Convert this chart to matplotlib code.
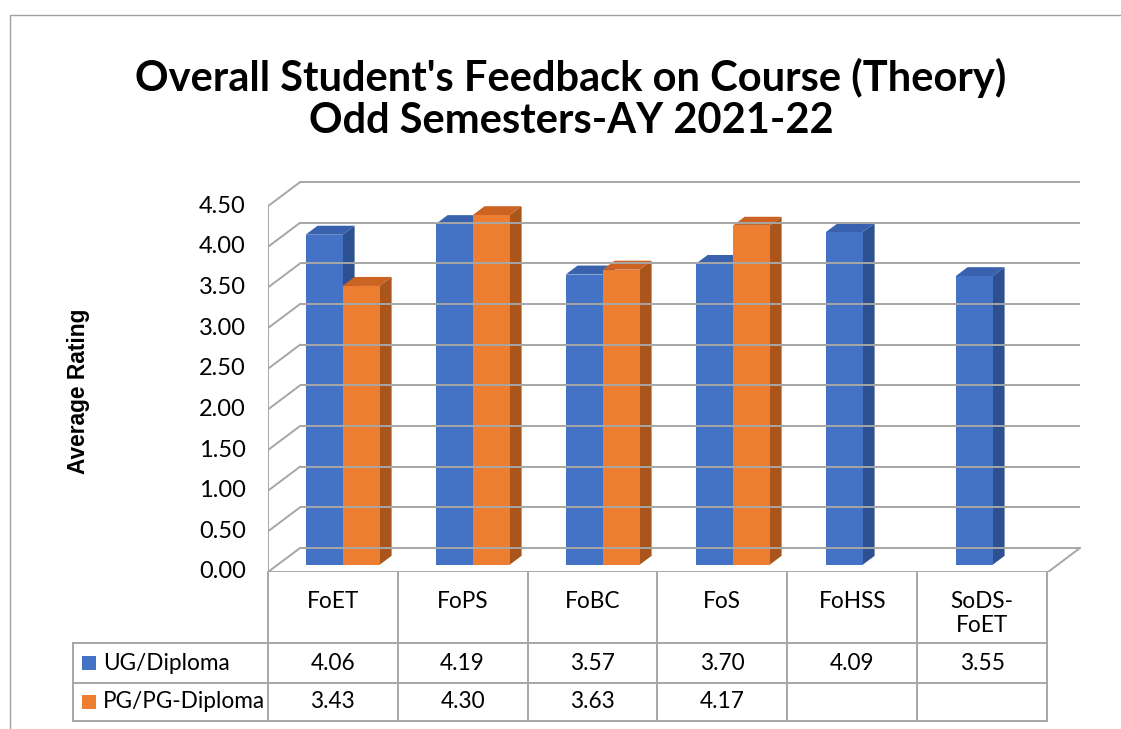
import numpy as np
import matplotlib
matplotlib.use("Agg")
import matplotlib.pyplot as plt
from matplotlib.patches import Polygon, Rectangle

# Дані
categories = ["FoET", "FoPS", "FoBC", "FoS", "FoHSS", "SoDS-\nFoET"]
ug_values = [4.06, 4.19, 3.57, 3.70, 4.09, 3.55]
pg_values = [3.43, 4.30, 3.63, 4.17, None, None]
series_names = ["UG/Diploma", "PG/PG-Diploma"]
y_ticks = np.arange(0, 4.51, 0.5)

# Кольори (front, top, side)
colors = [("#4472C4", "#3862ae", "#2d5190"),
          ("#ED7D31", "#cc6322", "#a9551c")]
grid_col = "#a6a6a6"

W, H = 1121, 729
fig = plt.figure(figsize=(W / 100, H / 100), dpi=100)
plt.rcParams['font.family'] = ['Lato', 'DejaVu Sans']

def fig_rect(x0, y0, x1, y1):
    # піксельні межі -> координати фігури
    return [x0 / W, 1 - y1 / H, (x1 - x0) / W, (y1 - y0) / H]

# рамка
fig.patches.append(Rectangle((10 / W, -0.1), 1.2, 1 - 15 / H + 0.1,
                             transform=fig.transFigure, fill=False,
                             edgecolor="#a0a0a0", lw=1.0))

fig.text(571 / W, 1 - 99 / H,
         "Overall Student's Feedback on Course (Theory)\nOdd Semesters-AY 2021-22",
         ha="center", va="center", fontsize=30, fontweight="bold",
         linespacing=1.12)

# Основна область
px_per_cat = 130.0
px_per_unit = 81.3
ax = fig.add_axes(fig_rect(268, 178, 1088, 572))
ax.set_xlim(-0.5, -0.5 + (1088 - 268) / px_per_cat)
ax.set_ylim(0, (572 - 178) / px_per_unit)
ax.axis("off")

DX = 32 / px_per_cat   # глибина по x
DY = 24 / px_per_unit  # глибина по y
x_left = -0.5
x_right = len(categories) - 0.5

# сітка на задній стіні та лівій стіні
for v in y_ticks:
    ax.plot([x_left + DX, x_right + DX], [v + DY, v + DY], color=grid_col, lw=1.4,
            solid_capstyle="butt")
    ax.plot([x_left, x_left + DX], [v, v + DY], color=grid_col, lw=1.4)
    ax.text(x_left - 0.17, v, f"{v:.2f}", ha="right", va="center", fontsize=17)
ax.plot([x_left, x_left], [0, y_ticks[-1]], color=grid_col, lw=1.4)
# підлога
ax.plot([x_left, x_right, x_right + DX], [0, 0, DY], color=grid_col, lw=1.4)

# 3D стовпці
w = 37 / px_per_cat
f0 = 0.3
fd = 0.375
base = f0 * DY
for i in range(len(categories)):
    for s, vals in enumerate([ug_values, pg_values]):
        v = vals[i]
        if v is None:
            continue
        front, topc, sidec = colors[s]
        x0 = i - w + s * w + f0 * DX
        top = base + v
        ddx, ddy = fd * DX, fd * DY
        ax.add_patch(Polygon([(x0, top), (x0 + w, top), (x0 + w + ddx, top + ddy),
                              (x0 + ddx, top + ddy)], closed=True, color=topc, lw=0))
        ax.add_patch(Polygon([(x0 + w, base), (x0 + w + ddx, base + ddy),
                              (x0 + w + ddx, top + ddy), (x0 + w, top)],
                             closed=True, color=sidec, lw=0))
        ax.add_patch(Rectangle((x0, base), w, v, color=front, lw=0))

fig.text(79 / W, 1 - 391 / H, "Average Rating", rotation=90, ha="center",
         va="center", fontsize=16.4, fontweight="bold", family="Liberation Sans")

# Таблиця даних
tab = fig.add_axes(fig_rect(73, 572, 1047, 721))
tab.set_xlim(-0.5 - 195 / px_per_cat, x_right)
tab.set_ylim(721, 572)
tab.axis("off")
tl = dict(color=grid_col, lw=1.4, clip_on=False)
row_y = [643, 683, 721]
for k in range(len(categories) + 1):
    tab.plot([k - 0.5, k - 0.5], [572, 721], **tl)
tab.plot([-2.0, -2.0], [643, 721], **tl)
for yy in row_y:
    tab.plot([-2.0, x_right], [yy, yy], **tl)

for i, c in enumerate(categories):
    tab.text(i, 591, c, ha="center", va="top", fontsize=16.3, linespacing=1.2)
for r, (name, vals) in enumerate(zip(series_names, [ug_values, pg_values])):
    yc = (row_y[r] + row_y[r + 1]) / 2
    tab.add_patch(Rectangle((-2.0 + 9 / px_per_cat, yc - 7), 14 / px_per_cat, 14,
                            color=colors[r][0], lw=0))
    tab.text(-2.0 + 30 / px_per_cat, yc, name, ha="left", va="center", fontsize=16.3)
    for i, v in enumerate(vals):
        if v is not None:
            tab.text(i, yc, f"{v:.2f}", ha="center", va="center", fontsize=16.3)

fig.savefig("out.png", dpi=100)
